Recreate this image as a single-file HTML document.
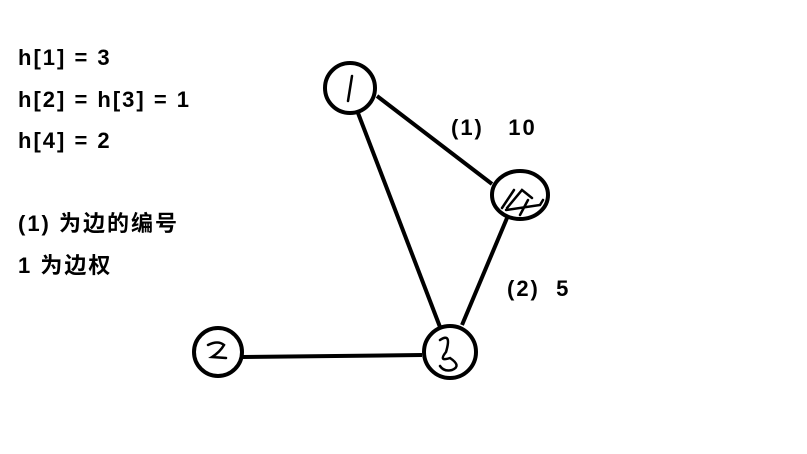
<!DOCTYPE html>
<html><head><meta charset="utf-8"><style>
html,body{margin:0;padding:0;background:#fff;}
body{width:807px;height:454px;position:relative;overflow:hidden;font-family:"Liberation Sans","Noto Sans CJK SC",sans-serif;font-weight:bold;font-size:22px;letter-spacing:2px;color:#000;}
.t{position:absolute;left:18px;line-height:24px;white-space:pre;}
</style></head><body>
<div class="t" style="top:46px">h[1] = 3</div>
<div class="t" style="top:88px">h[2] = h[3] = 1</div>
<div class="t" style="top:129px">h[4] = 2</div>
<div class="t" style="top:212px">(1) 为边的编号</div>
<div class="t" style="top:254px">1 为边权</div>
<div class="t" style="left:451px;top:116px">(1)   10</div>
<div class="t" style="left:507px;top:277px">(2)  5</div>
<svg width="807" height="454" style="position:absolute;left:0;top:0" fill="none" stroke="#000">
<g stroke-width="4">
<line x1="377" y1="96" x2="492" y2="184"/>
<line x1="358" y1="113" x2="440" y2="327"/>
<line x1="507" y1="218" x2="462" y2="325"/>
<line x1="243" y1="357" x2="422" y2="355"/>
<circle cx="350" cy="88" r="25"/>
<ellipse cx="520" cy="195" rx="28" ry="24"/>
<circle cx="450" cy="352" r="26"/>
<circle cx="218" cy="352" r="24"/>
</g>
<g stroke-width="2.5" stroke-linecap="round">
<path d="M352 76 L348 101"/>
<path d="M208 345 Q218 340 224 345 Q220 352 212 357 L226 358"/>
<path d="M502 208 L514 190 M507 208 L522 190 L532 198 M506 210 L540 205 L543 200 M520 215 L528 200"/>
<path d="M440 340 Q452 332 446 352 Q438 362 450 358 Q462 366 452 370 Q444 372 440 366"/>
</g>
</svg>
</body></html>
